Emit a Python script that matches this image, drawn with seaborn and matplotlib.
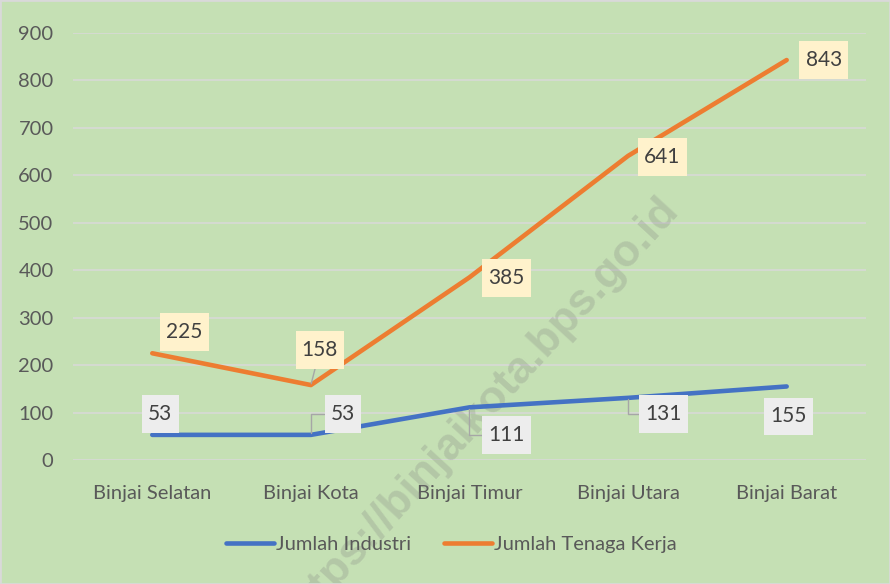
import matplotlib
matplotlib.use("Agg")
import matplotlib.pyplot as plt
import seaborn as sns
import pandas as pd
from matplotlib.patches import Rectangle
from matplotlib.path import Path

# --- data ---
categories = ["Binjai Selatan", "Binjai Kota", "Binjai Timur", "Binjai Utara", "Binjai Barat"]
jumlah_industri = [53, 53, 111, 131, 155]
jumlah_tenaga_kerja = [225, 158, 385, 641, 843]
series_names = ["Jumlah Industri", "Jumlah Tenaga Kerja"]
y_ticks = [0, 100, 200, 300, 400, 500, 600, 700, 800, 900]

df = pd.DataFrame({
    "Kecamatan": categories * 2,
    "Nilai": jumlah_industri + jumlah_tenaga_kerja,
    "Seri": [series_names[0]] * len(categories) + [series_names[1]] * len(categories),
})

# --- styling ---
BG = "#C5E0B4"
GRID = "#D9D9D9"
TEXT = "#595959"
LABEL_TEXT = "#404040"
palette = {series_names[0]: "#4472C4", series_names[1]: "#ED7D31"}
label_fill = {series_names[0]: "#EDEDED", series_names[1]: "#FFF2CC"}


def label_box(x0, y0, width, height, mutation_size):
    """Rectangular label box, padded more vertically than horizontally."""
    px = 0.3 * mutation_size
    py = 0.43 * mutation_size
    x0, y0 = x0 - px, y0 - py
    x1, y1 = x0 + width + 2 * px, y0 + height + 2 * py
    return Path([(x0, y0), (x1, y0), (x1, y1), (x0, y1), (x0, y0)], closed=True)


sns.set_theme(style="white")
plt.rcParams["font.family"] = ["Lato", "DejaVu Sans"]

fig = plt.figure(figsize=(8.9, 5.84), dpi=100, facecolor=BG)
ax = fig.add_axes([0.082, 0.2123, 0.891, 0.7312])
ax.set_facecolor(BG)

sns.lineplot(data=df, x="Kecamatan", y="Nilai", hue="Seri", palette=palette,
             sort=False, linewidth=3.3, ax=ax, legend=False)
for ln in ax.get_lines():
    ln.set_solid_capstyle("round")
    ln.set_solid_joinstyle("round")
    ln.set_zorder(3)

ax.set_xlim(-0.5, len(categories) - 0.5)
ax.set_ylim(0, 900)
ax.set_yticks(y_ticks)
ax.set_yticklabels([str(v) for v in y_ticks])
ax.grid(axis="y", color=GRID, linewidth=1.1)
ax.set_axisbelow(True)
for s in ax.spines.values():
    s.set_visible(False)
ax.tick_params(axis="both", length=0, colors=TEXT, labelsize=14.5)
ax.tick_params(axis="y", pad=14)
ax.tick_params(axis="x", pad=18)
ax.set_xlabel("")
ax.set_ylabel("")

# data labels: offsets in pixels from each point, and leader style
offsets = {
    series_names[0]: [(8, 21), (32, 21), (37, -28), (35, -16), (2, -30)],
    series_names[1]: [(32, 21), (9, 35), (37, -1), (34, -1), (37, 0)],
}
leaders = {
    series_names[0]: [None, "elbow", "elbow", "elbow", None],
    series_names[1]: [None, "straight", None, None, None],
}
values = {series_names[0]: jumlah_industri, series_names[1]: jumlah_tenaga_kerja}

for name in series_names:
    for i, v in enumerate(values[name]):
        style = leaders[name][i]
        arrow = None
        if style == "straight":
            arrow = dict(arrowstyle="-", color="#A6A6A6", lw=1.0, shrinkA=0, shrinkB=1)
        elif style == "elbow":
            arrow = dict(arrowstyle="-", color="#A6A6A6", lw=1.0, shrinkA=0, shrinkB=1,
                         connectionstyle="angle,angleA=0,angleB=90,rad=0")
        ax.annotate(str(v), xy=(i, v), xytext=offsets[name][i], textcoords="offset pixels",
                    ha="center", va="center", fontsize=15, color=LABEL_TEXT, zorder=5,
                    bbox=dict(boxstyle=label_box, fc=label_fill[name], ec="none"),
                    arrowprops=arrow)

# legend
handles = [plt.Line2D([], [], color=palette[n], linewidth=3.3, solid_capstyle="round")
           for n in series_names]
leg = fig.legend(handles, series_names, loc="center", bbox_to_anchor=(0.507, 0.067),
                 ncol=2, frameon=False, fontsize=14.5, handlelength=2.4,
                 handletextpad=0.1, columnspacing=1.6)
for t in leg.get_texts():
    t.set_color(TEXT)

# watermark, behind the lines and labels
ax.text(0.540, 0.295, "https://binjaikota.bps.go.id", transform=fig.transFigure,
        fontsize=32, fontweight="bold", family="Liberation Sans", color="#808080",
        alpha=0.26, rotation=47.5, rotation_mode="anchor", ha="center", va="center",
        zorder=2.5, clip_on=False)

# chart border
fig.patches.append(Rectangle((0, 0), 1, 1, transform=fig.transFigure, fill=False,
                             edgecolor=GRID, linewidth=2))

fig.savefig("out.png", dpi=100, facecolor=BG)
